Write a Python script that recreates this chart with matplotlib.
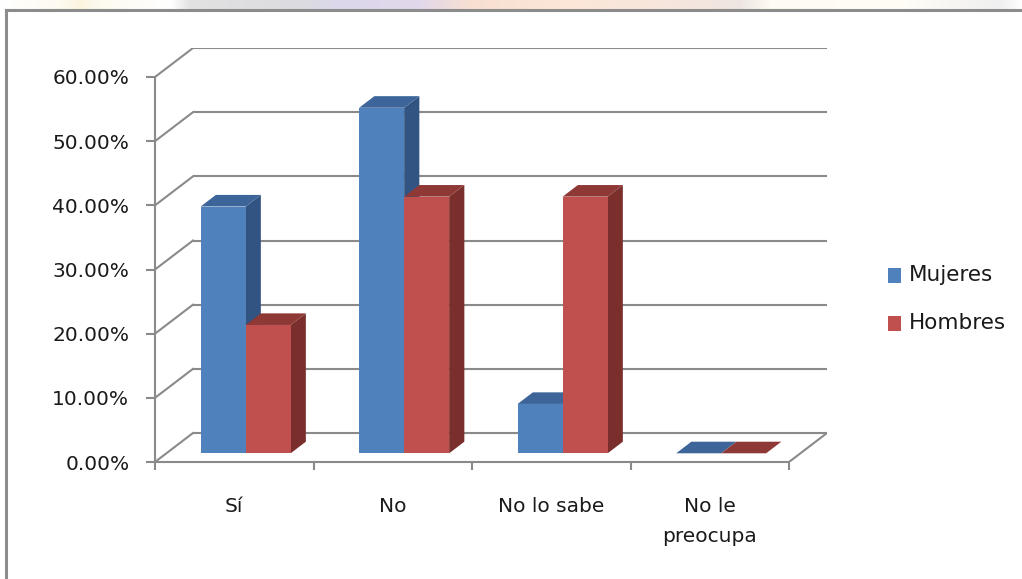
import numpy as np
import matplotlib
matplotlib.use("Agg")
import matplotlib.pyplot as plt
from matplotlib.patches import Polygon, Rectangle
from matplotlib.lines import Line2D

# ---- data -------------------------------------------------------------
categorias = ["Sí", "No", "No lo sabe", "No le\npreocupa"]
mujeres = [38.46, 53.85, 7.69, 0.0]
hombres = [20.0, 40.0, 40.0, 0.0]
series_nombres = ["Mujeres", "Hombres"]
ticks_y = [0, 10, 20, 30, 40, 50, 60]

# ---- style ------------------------------------------------------------
plt.rcParams["font.family"] = ["DejaVu Sans"]
FS = 14.5
TXT = "#1a1a1a"
GRID = "#8a8a8a"
colores = {
    "Mujeres": dict(front="#4f81bd", top="#3d659a", side="#325482"),
    "Hombres": dict(front="#c0504d", top="#8f3937", side="#7a2f2d"),
}

W, H = 1022, 579
fig = plt.figure(figsize=(W / 100, H / 100), dpi=100)
fig.patch.set_facecolor("white")

# soft coloured strip along the very top edge
strip = fig.add_axes([0, 1 - 10 / H, 1, 10 / H])
stops_x = [0, 60, 80, 100, 170, 190, 300, 340, 420, 470, 560, 650, 740, 770, 900, 1000, 1022]
stops_c = ["#ffffff", "#fdfaf0", "#fbf4df", "#fdfaf0", "#ffffff", "#e2e2e2", "#dcdce0",
           "#dcd7ec", "#e2d8ea", "#f7e0d2", "#fce6d8", "#f9e6dc", "#eee6e2", "#fefbf2",
           "#fffdf6", "#f0f0f0", "#ffffff"]
xs = np.arange(W)
rgb = np.array([matplotlib.colors.to_rgb(c) for c in stops_c])
row = np.stack([np.interp(xs, stops_x, rgb[:, k]) for k in range(3)], axis=-1)
img = np.repeat(row[None, :, :], 6, axis=0)
strip.imshow(img, aspect="auto", interpolation="bilinear", extent=[0, W, 0, 1])
strip.set_axis_off()

# outer chart border
fig.add_artist(Line2D([6 / W, 6 / W], [0, 1 - 10 / H], transform=fig.transFigure,
                      color="#8c8c8c", lw=2.2))
fig.add_artist(Line2D([6 / W, 1], [1 - 10 / H, 1 - 10 / H], transform=fig.transFigure,
                      color="#8c8c8c", lw=2.2))

# ---- plot area with oblique depth -------------------------------------
px_cat = 158.5           # pixels per category
px_pct = 385 / 60        # pixels per percentage point
DX = 38 / px_cat         # depth offset (category units)
DY = 29 / px_pct         # depth offset (percent units)
n = len(categorias)

left, right, bottom, top = 155, 155 + n * px_cat + 38, 462, 462 - 60 * px_pct - 29
ax = fig.add_axes([left / W, 1 - bottom / H, (right - left) / W, (bottom - top) / H])
ax.set_xlim(-0.5, n - 0.5 + DX)
ax.set_ylim(0, 60 + DY)
ax.patch.set_alpha(0)

# walls: back gridlines and left-side diagonals
for v in ticks_y:
    ax.plot([-0.5 + DX, n - 0.5 + DX], [v + DY, v + DY], color=GRID, lw=1.5, zorder=1,
            solid_capstyle="butt")
    ax.plot([-0.5, -0.5 + DX], [v, v + DY], color=GRID, lw=1.5, zorder=1)
ax.plot([n - 0.5, n - 0.5 + DX], [0, DY], color=GRID, lw=1.5, zorder=1)

# spines / ticks
for s in ("top", "right"):
    ax.spines[s].set_visible(False)
for s in ("left", "bottom"):
    ax.spines[s].set_color(GRID)
    ax.spines[s].set_linewidth(1.5)
ax.spines["left"].set_bounds(0, 60)
ax.spines["bottom"].set_bounds(-0.5, n - 0.5)

ax.set_yticks(ticks_y)
ax.set_yticklabels([f"{v:.2f}%" for v in ticks_y], fontsize=FS, color=TXT)
ax.tick_params(axis="y", length=6.5, width=1.5, color=GRID, pad=12)

ax.set_xticks(np.arange(n))
ax.set_xticklabels(categorias, fontsize=FS, color=TXT, linespacing=1.75)
ax.set_xticks(np.arange(n + 1) - 0.5, minor=True)
ax.tick_params(axis="x", which="major", length=0, pad=25)
ax.tick_params(axis="x", which="minor", length=6, width=1.5, color=GRID)

# ---- 3D-look columns ----------------------------------------------------
w = 45 / px_cat
f0, f1 = 0.30, 0.70
ddx, ddy = (f1 - f0) * DX, (f1 - f0) * DY
z = 3
for i in range(n):
    for j, (nombre, vals) in enumerate(zip(series_nombres, [mujeres, hombres])):
        c = colores[nombre]
        xl = i - w + j * w + f0 * DX
        xr = xl + w
        yb = f0 * DY
        yt = vals[i] + yb
        front = Polygon([(xl, yb), (xr, yb), (xr, yt), (xl, yt)], closed=True,
                        facecolor=c["front"], edgecolor="none", zorder=z)
        side = Polygon([(xr, yb), (xr + ddx, yb + ddy), (xr + ddx, yt + ddy), (xr, yt)],
                       closed=True, facecolor=c["side"], edgecolor="none", zorder=z)
        lid = Polygon([(xl, yt), (xr, yt), (xr + ddx, yt + ddy), (xl + ddx, yt + ddy)],
                      closed=True, facecolor=c["top"], edgecolor="none", zorder=z)
        for p in (side, front, lid):
            ax.add_patch(p)
        z += 1

# ---- legend -------------------------------------------------------------
leg_y = [275, 323]
for nombre, yy in zip(series_nombres, leg_y):
    fig.add_artist(Rectangle((888 / W, 1 - (yy + 7.5) / H), 13 / W, 15 / H,
                             transform=fig.transFigure, facecolor=colores[nombre]["front"],
                             edgecolor="none"))
    fig.text(909 / W, 1 - yy / H, nombre, fontsize=15.5, color=TXT, va="center", ha="left")

fig.savefig("out.png", dpi=100, facecolor="white")
